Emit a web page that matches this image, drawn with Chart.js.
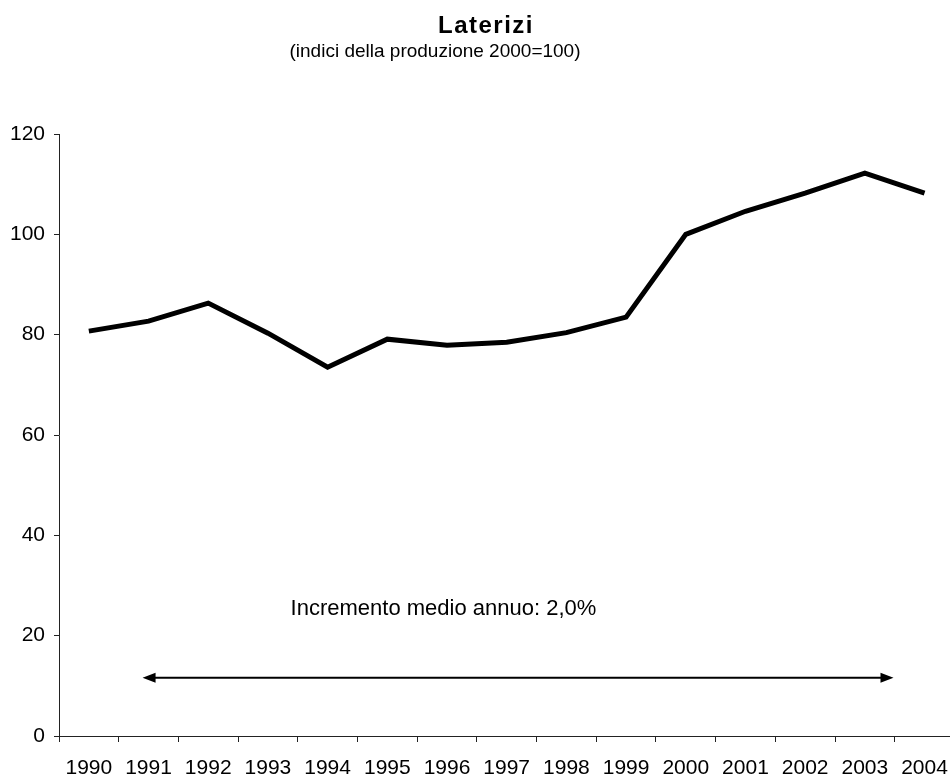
<!DOCTYPE html>
<html lang="it">
<head>
<meta charset="utf-8">
<title>Laterizi</title>
<script src="https://cdn.jsdelivr.net/npm/chart.js@4/dist/chart.umd.min.js"></script>
<style>
    html, body { margin: 0; padding: 0; background: #fff; overflow: hidden; }
    #wrap { position: relative; width: 962px; height: 780px; }
</style>
</head>
<body>
<div id="wrap"><canvas id="chart"></canvas></div>
<script>
// Production index, 2000 = 100
const years = ['1990', '1991', '1992', '1993', '1994', '1995', '1996', '1997',
               '1998', '1999', '2000', '2001', '2002', '2003', '2004'];
const indexValues = [80.7, 82.7, 86.3, 80.3, 73.5, 79.1, 77.9, 78.5,
                     80.4, 83.5, 100.0, 104.6, 108.2, 112.2, 108.2];
const yTicks = [0, 20, 40, 60, 80, 100, 120];

// Arrow spanning the period (category index positions, value level)
const arrowFrom = 0.9;
const arrowTo = 13.48;
const arrowLevel = 11.6;
const noteText = 'Incremento medio annuo: 2,0%';
const noteAt = [3.38, 25.3];

const titleText = 'Laterizi';
const subtitleText = '(indici della produzione 2000=100)';

const FONT = '"Liberation Sans", Arial, sans-serif';

// Title, subtitle, growth note and double arrow
const decorations = {
    id: 'decorations',
    afterDatasetsDraw(chart) {
        const { ctx, scales: { x, y } } = chart;
        ctx.save();
        ctx.fillStyle = '#000';
        ctx.textBaseline = 'alphabetic';
        ctx.textAlign = 'center';
        ctx.font = 'bold 24px ' + FONT;
        ctx.letterSpacing = '1.5px';
        ctx.fillText(titleText, 486, 33);
        ctx.letterSpacing = '0px';
        ctx.font = '19px ' + FONT;
        ctx.fillText(subtitleText, 435, 57);

        ctx.textAlign = 'left';
        ctx.textBaseline = 'middle';
        ctx.font = '22px ' + FONT;
        ctx.fillText(noteText, x.getPixelForValue(noteAt[0]), y.getPixelForValue(noteAt[1]));

        const x0 = x.getPixelForValue(arrowFrom);
        const x1 = x.getPixelForValue(arrowTo);
        const ay = y.getPixelForValue(arrowLevel);
        const head = 13, half = 5;
        ctx.strokeStyle = '#000';
        ctx.lineWidth = 2;
        ctx.beginPath();
        ctx.moveTo(x0 + head - 2, ay);
        ctx.lineTo(x1 - head + 2, ay);
        ctx.stroke();
        ctx.beginPath();
        ctx.moveTo(x0, ay);
        ctx.lineTo(x0 + head, ay - half);
        ctx.lineTo(x0 + head, ay + half);
        ctx.closePath();
        ctx.moveTo(x1, ay);
        ctx.lineTo(x1 - head, ay - half);
        ctx.lineTo(x1 - head, ay + half);
        ctx.closePath();
        ctx.fill();
        ctx.restore();
    }
};

new Chart(document.getElementById('chart'), {
    type: 'line',
    data: {
        labels: years,
        datasets: [{
            data: indexValues,
            borderColor: '#000',
            borderWidth: 5,
            pointRadius: 0,
            tension: 0,
            fill: false
        }]
    },
    options: {
        responsive: true,
        maintainAspectRatio: false,
        animation: false,
        events: [],
        layout: { padding: { top: 134, right: 3, left: 0, bottom: 0 } },
        plugins: {
            legend: { display: false },
            title: { display: false },
            tooltip: { enabled: false }
        },
        scales: {
            x: {
                offset: true,
                grid: {
                    offset: true,
                    drawOnChartArea: false,
                    drawTicks: true,
                    tickLength: 6,
                    tickColor: '#222'
                },
                border: { color: '#222', width: 1 },
                ticks: {
                    color: '#000',
                    font: { family: FONT, size: 21 },
                    padding: 14,
                    maxRotation: 0,
                    autoSkip: false
                },
                afterFit(scale) { scale.height = 44; }
            },
            y: {
                min: 0,
                max: 120,
                afterBuildTicks(scale) { scale.ticks = yTicks.map(v => ({ value: v })); },
                grid: {
                    drawOnChartArea: false,
                    drawTicks: true,
                    tickLength: 5,
                    tickColor: '#222'
                },
                border: { color: '#222', width: 1 },
                ticks: {
                    color: '#000',
                    font: { family: FONT, size: 21 },
                    padding: 9
                },
                afterFit(scale) { scale.width = 59; }
            }
        }
    },
    plugins: [decorations]
});
</script>
</body>
</html>
